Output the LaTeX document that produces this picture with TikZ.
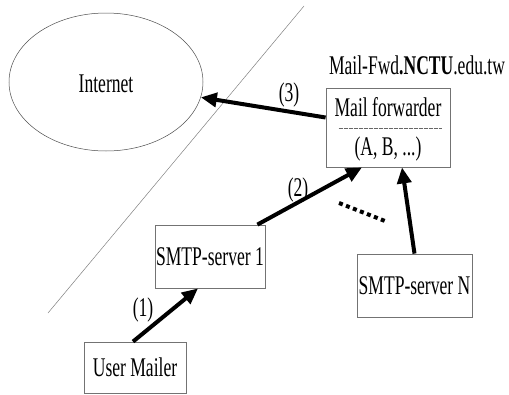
\documentclass[tikz,border=0pt]{standalone}
\usepackage{fontspec}
\setmainfont{Liberation Serif}[FakeStretch=0.65]
\usetikzlibrary{shapes.geometric, arrows.meta}

\begin{document}
\begin{tikzpicture}[x=1pt, y=-1pt,
  font=\fontsize{27}{29}\selectfont,
  boxnode/.style={rectangle, draw=black!55, line width=0.8pt, inner sep=0pt},
  flow/.style={line width=4pt, -{Triangle[length=16pt, width=14pt]}},
  steplabel/.style={inner sep=0pt}]
\useasboundingbox (0,0) rectangle (509,394);
\draw[black!50, line width=0.5pt] (304,6) -- (48,313);
\node[ellipse, draw=black!70, line width=0.5pt, minimum width=194pt, minimum height=138pt] (inet) at (106,82) {};
\node (inettext) at (106,84) {Internet};
\node (fwdname) at (417,65) {Mail-Fwd\textbf{.NCTU}.edu.tw};
\node[boxnode, minimum width=124pt, minimum height=79pt] (fwd) at (388,127.5) {};
\node (fwdtitle) at (388,107) {Mail forwarder};
\node (fwdlist) at (388,149) {(A, B, ...)};
\node[boxnode, minimum width=110pt, minimum height=63pt] (smtp1) at (210,256.5) {SMTP-server 1};
\node[boxnode, minimum width=115pt, minimum height=63pt] (smtpn) at (414.5,285.5) {SMTP-server N};
\node[boxnode, minimum width=102pt, minimum height=51pt] (user) at (135,367.5) {User Mailer};
\draw[black!60, line width=0.6pt, dash pattern=on 4pt off 1pt] ([xshift=13pt]fwd.west |- 0,128) -- ([xshift=-8pt]fwd.east |- 0,128);
\draw[flow] ([yshift=10pt]fwd.west) -- (inet);
\draw[flow] ([xshift=-2pt]user.north) -- ([xshift=-12pt]smtp1.south);
\draw[flow] ([xshift=-8pt]smtp1.north east) -- ([xshift=-26pt]fwd.south);
\draw[flow] (smtpn.north) -- ([xshift=14pt]fwd.south);
\coordinate (dotsa) at (339,203);
\coordinate (dotsb) at (385,221);
\draw[line width=4pt, dash pattern=on 4pt off 3.5pt] (dotsa) -- (dotsb);
\node[steplabel] (lab1) at (143,310) {(1)};
\node[steplabel] (lab2) at (298,190) {(2)};
\node[steplabel] (lab3) at (289,95) {(3)};
\end{tikzpicture}
\end{document}
